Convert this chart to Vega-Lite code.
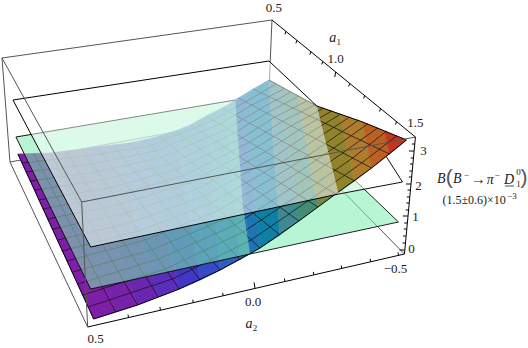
{
"$schema":"https://vega.github.io/schema/vega-lite/v6.json",
"width":528,"height":348,"padding":0,"autosize":{"type":"fit","contains":"padding"},
"background":"white","config":{"view":{"stroke":null}},
"datasets":{
"boxBack":[{"id":"a","x":1,"y":58},{"id":"a","x":272,"y":20},{"id":"b","x":1,"y":58},{"id":"b","x":9,"y":162},{"id":"c","x":9,"y":162},{"id":"c","x":87,"y":327},{"id":"d","x":9,"y":162},{"id":"d","x":268,"y":115},{"id":"e","x":268,"y":115},{"id":"e","x":405,"y":254},{"id":"f","x":272,"y":20},{"id":"f","x":268,"y":115}],
"lowerRight":[{"id":"p","x":250,"y":254},{"id":"p","x":399,"y":222},{"id":"p","x":340,"y":165},{"id":"p","x":250,"y":200}],
"lowerRightEdge":[{"id":"e","x":250,"y":254},{"id":"e","x":399,"y":222},{"id":"e","x":355,"y":180}],
"upperRight":[{"id":"p","x":339,"y":194},{"id":"p","x":403,"y":182},{"id":"p","x":387,"y":157},{"id":"p","x":372,"y":168},{"id":"p","x":355,"y":181}],
"upperRightEdge":[{"id":"e","x":339,"y":194},{"id":"e","x":403,"y":182},{"id":"e","x":387,"y":157}],
"bands":[
{"id":"b00","z":0,"x":17,"y":154},{"id":"b00","z":0,"x":33,"y":153.5},{"id":"b00","z":0,"x":49,"y":153},{"id":"b00","z":0,"x":115,"y":312},{"id":"b00","z":0,"x":93,"y":319},
{"id":"b01","z":0.1,"x":49,"y":153},{"id":"b01","z":0.1,"x":65,"y":151},{"id":"b01","z":0.1,"x":81,"y":149},{"id":"b01","z":0.1,"x":137,"y":305},{"id":"b01","z":0.1,"x":115,"y":312},
{"id":"b02","z":0.25,"x":81,"y":149},{"id":"b02","z":0.25,"x":96,"y":147},{"id":"b02","z":0.25,"x":112,"y":145},{"id":"b02","z":0.25,"x":158,"y":297},{"id":"b02","z":0.25,"x":137,"y":305},
{"id":"b03","z":0.4,"x":112,"y":145},{"id":"b03","z":0.4,"x":128,"y":143},{"id":"b03","z":0.4,"x":143,"y":140},{"id":"b03","z":0.4,"x":179,"y":289},{"id":"b03","z":0.4,"x":158,"y":297},
{"id":"b04","z":0.55,"x":143,"y":140},{"id":"b04","z":0.55,"x":159,"y":136},{"id":"b04","z":0.55,"x":175,"y":131},{"id":"b04","z":0.55,"x":200,"y":280},{"id":"b04","z":0.55,"x":179,"y":289},
{"id":"b05","z":0.65,"x":175,"y":131},{"id":"b05","z":0.65,"x":190,"y":125},{"id":"b05","z":0.65,"x":206,"y":116},{"id":"b05","z":0.65,"x":220,"y":270},{"id":"b05","z":0.65,"x":200,"y":280},
{"id":"b06","z":0.78,"x":206,"y":116},{"id":"b06","z":0.78,"x":222,"y":108},{"id":"b06","z":0.78,"x":226,"y":106},{"id":"b06","z":0.78,"x":240,"y":259.5},{"id":"b06","z":0.78,"x":220,"y":270},
{"id":"b07","z":0.88,"x":226,"y":106},{"id":"b07","z":0.88,"x":235,"y":100},{"id":"b07","z":0.88,"x":250,"y":254},{"id":"b07","z":0.88,"x":240,"y":259.5},
{"id":"b08","z":0.98,"x":235,"y":100},{"id":"b08","z":0.98,"x":245,"y":94},{"id":"b08","z":0.98,"x":260,"y":248},{"id":"b08","z":0.98,"x":250,"y":254},
{"id":"b09","z":1.12,"x":245,"y":94},{"id":"b09","z":1.12,"x":253,"y":89},{"id":"b09","z":1.12,"x":269,"y":80},{"id":"b09","z":1.12,"x":280,"y":235},{"id":"b09","z":1.12,"x":260,"y":248},
{"id":"b10","z":1.3,"x":269,"y":80},{"id":"b10","z":1.3,"x":281,"y":87},{"id":"b10","z":1.3,"x":299,"y":221},{"id":"b10","z":1.3,"x":280,"y":235},
{"id":"b11","z":1.5,"x":281,"y":87},{"id":"b11","z":1.5,"x":298,"y":96},{"id":"b11","z":1.5,"x":318,"y":207},{"id":"b11","z":1.5,"x":299,"y":221},
{"id":"b12","z":1.95,"x":298,"y":96},{"id":"b12","z":1.95,"x":317,"y":106},{"id":"b12","z":1.95,"x":337,"y":193},{"id":"b12","z":1.95,"x":318,"y":207},
{"id":"b13","z":2.2,"x":317,"y":106},{"id":"b13","z":2.2,"x":340,"y":114},{"id":"b13","z":2.2,"x":355,"y":181},{"id":"b13","z":2.2,"x":337,"y":193},
{"id":"b14","z":2.45,"x":340,"y":114},{"id":"b14","z":2.45,"x":363,"y":122},{"id":"b14","z":2.45,"x":372,"y":168},{"id":"b14","z":2.45,"x":355,"y":181},
{"id":"b15","z":2.7,"x":363,"y":122},{"id":"b15","z":2.7,"x":385,"y":131},{"id":"b15","z":2.7,"x":390,"y":154},{"id":"b15","z":2.7,"x":372,"y":168},
{"id":"b16","z":2.95,"x":385,"y":131},{"id":"b16","z":2.95,"x":407,"y":140},{"id":"b16","z":2.95,"x":390,"y":154}
],
"mesh":[
{"id":"j01","x":21,"y":163},{"id":"j01","x":86,"y":156},{"id":"j01","x":149,"y":146},{"id":"j01","x":213,"y":120},{"id":"j01","x":245,"y":102},{"id":"j01","x":276,"y":84},
{"id":"j02","x":25,"y":172},{"id":"j02","x":91,"y":164},{"id":"j02","x":155,"y":151},{"id":"j02","x":220,"y":124},{"id":"j02","x":252,"y":105},{"id":"j02","x":284,"y":89},
{"id":"j03","x":29,"y":181},{"id":"j03","x":97,"y":172},{"id":"j03","x":162,"y":157},{"id":"j03","x":227,"y":129},{"id":"j03","x":260,"y":109},{"id":"j03","x":291,"y":92},
{"id":"j04","x":34,"y":190},{"id":"j04","x":102,"y":180},{"id":"j04","x":169,"y":164},{"id":"j04","x":234,"y":133},{"id":"j04","x":267,"y":113},{"id":"j04","x":299,"y":96},
{"id":"j05","x":38,"y":200},{"id":"j05","x":108,"y":188},{"id":"j05","x":175,"y":170},{"id":"j05","x":242,"y":138},{"id":"j05","x":275,"y":117},{"id":"j05","x":307,"y":101},
{"id":"j06","x":42,"y":209},{"id":"j06","x":114,"y":196},{"id":"j06","x":182,"y":176},{"id":"j06","x":250,"y":142},{"id":"j06","x":283,"y":121},{"id":"j06","x":315,"y":105},
{"id":"j07","x":47,"y":219},{"id":"j07","x":120,"y":204},{"id":"j07","x":189,"y":183},{"id":"j07","x":257,"y":147},{"id":"j07","x":291,"y":126},{"id":"j07","x":324,"y":108},
{"id":"j08","x":52,"y":229},{"id":"j08","x":126,"y":213},{"id":"j08","x":197,"y":189},{"id":"j08","x":265,"y":152},{"id":"j08","x":299,"y":130},{"id":"j08","x":332,"y":111},
{"id":"j09","x":57,"y":240},{"id":"j09","x":132,"y":222},{"id":"j09","x":204,"y":196},{"id":"j09","x":274,"y":157},{"id":"j09","x":308,"y":134},{"id":"j09","x":341,"y":114},
{"id":"j10","x":61,"y":251},{"id":"j10","x":138,"y":231},{"id":"j10","x":211,"y":203},{"id":"j10","x":282,"y":162},{"id":"j10","x":316,"y":139},{"id":"j10","x":350,"y":117},
{"id":"j11","x":66,"y":261},{"id":"j11","x":145,"y":240},{"id":"j11","x":219,"y":210},{"id":"j11","x":291,"y":167},{"id":"j11","x":325,"y":144},{"id":"j11","x":359,"y":120},
{"id":"j12","x":72,"y":272},{"id":"j12","x":151,"y":250},{"id":"j12","x":227,"y":218},{"id":"j12","x":299,"y":172},{"id":"j12","x":334,"y":148},{"id":"j12","x":368,"y":124},
{"id":"j13","x":77,"y":284},{"id":"j13","x":158,"y":259},{"id":"j13","x":235,"y":225},{"id":"j13","x":308,"y":177},{"id":"j13","x":343,"y":153},{"id":"j13","x":378,"y":128},
{"id":"j14","x":82,"y":295},{"id":"j14","x":165,"y":269},{"id":"j14","x":243,"y":232},{"id":"j14","x":317,"y":183},{"id":"j14","x":353,"y":158},{"id":"j14","x":387,"y":131},
{"id":"j15","x":87.5,"y":307},{"id":"j15","x":172,"y":279},{"id":"j15","x":251,"y":240},{"id":"j15","x":327,"y":188},{"id":"j15","x":362,"y":163},{"id":"j15","x":397,"y":136},
{"id":"k01","x":33,"y":153.5},{"id":"k01","x":115,"y":312},
{"id":"k02","x":49,"y":153},{"id":"k02","x":137,"y":305},
{"id":"k03","x":65,"y":151},{"id":"k03","x":158,"y":297},
{"id":"k04","x":81,"y":149},{"id":"k04","x":179,"y":289},
{"id":"k05","x":96,"y":147},{"id":"k05","x":200,"y":280},
{"id":"k06","x":112,"y":145},{"id":"k06","x":220,"y":270},
{"id":"k07","x":128,"y":143},{"id":"k07","x":240,"y":259.5},
{"id":"k08","x":143,"y":140},{"id":"k08","x":260,"y":248},
{"id":"k09","x":159,"y":136},{"id":"k09","x":280,"y":235},
{"id":"k10","x":175,"y":131},{"id":"k10","x":299,"y":221},
{"id":"k11","x":190,"y":125},{"id":"k11","x":318,"y":207},
{"id":"k12","x":206,"y":116},{"id":"k12","x":336,"y":194},
{"id":"k13","x":222,"y":108},{"id":"k13","x":355,"y":181},
{"id":"k14","x":238,"y":98},{"id":"k14","x":372,"y":168},
{"id":"k15","x":253,"y":89},{"id":"k15","x":390,"y":154}
],
"surfaceEdge":[{"id":"o","x":17,"y":154},{"id":"o","x":93,"y":319},{"id":"o","x":137,"y":305},{"id":"o","x":179,"y":289},{"id":"o","x":220,"y":270},{"id":"o","x":260,"y":248},{"id":"o","x":299,"y":221},{"id":"o","x":336,"y":194},{"id":"o","x":372,"y":168},{"id":"o","x":407,"y":140},{"id":"o","x":385,"y":131},{"id":"o","x":363,"y":122},{"id":"o","x":340,"y":114},{"id":"o","x":317,"y":106},{"id":"o","x":293,"y":93},{"id":"o","x":269,"y":80}],
"lowerLeft":[{"id":"p","x":15,"y":137},{"id":"p","x":235,"y":100},{"id":"p","x":243,"y":207},{"id":"p","x":250,"y":254},{"id":"p","x":90,"y":289}],
"lowerLeftEdge":[{"id":"e","x":235,"y":100},{"id":"e","x":15,"y":137},{"id":"e","x":90,"y":289},{"id":"e","x":250,"y":254}],
"upperLeft":[{"id":"p","x":12,"y":100},{"id":"p","x":269,"y":61},{"id":"p","x":317,"y":106},{"id":"p","x":339,"y":194},{"id":"p","x":90,"y":247}],
"upperLeftEdge":[{"id":"e","x":317,"y":106},{"id":"e","x":269,"y":61},{"id":"e","x":12,"y":100},{"id":"e","x":90,"y":247},{"id":"e","x":339,"y":194}],
"boxFront":[{"id":"a","x":1,"y":58},{"id":"a","x":81,"y":202},{"id":"b","x":81,"y":202},{"id":"b","x":416,"y":137},{"id":"c","x":81,"y":202},{"id":"c","x":87,"y":327}],
"axes":[{"id":"a2","x":87,"y":327},{"id":"a2","x":405,"y":254},{"id":"a1","x":272,"y":20},{"id":"a1","x":416,"y":137},{"id":"z","x":416,"y":137},{"id":"z","x":405,"y":254},
{"id":"t01","x":128,"y":317.6},{"id":"t01","x":127.5,"y":314.6},{"id":"t02","x":160,"y":310},{"id":"t02","x":159.5,"y":307},{"id":"t03","x":193,"y":302.7},{"id":"t03","x":192.5,"y":299.7},{"id":"t04","x":223,"y":295.8},{"id":"t04","x":222.5,"y":292.8},{"id":"t05","x":255,"y":288.4},{"id":"t05","x":254,"y":282.4},{"id":"t06","x":285,"y":281.5},{"id":"t06","x":284.5,"y":278.5},{"id":"t07","x":314,"y":274.9},{"id":"t07","x":313.5,"y":271.9},{"id":"t08","x":342,"y":268.5},{"id":"t08","x":341.5,"y":265.5},{"id":"t09","x":371,"y":261.8},{"id":"t09","x":370.5,"y":258.8},{"id":"t10","x":399,"y":255.4},{"id":"t10","x":398.5,"y":252.4},
{"id":"u01","x":286,"y":31.4},{"id":"u01","x":285,"y":34.4},{"id":"u02","x":297,"y":40.3},{"id":"u02","x":296,"y":43.3},{"id":"u03","x":311,"y":51.7},{"id":"u03","x":310,"y":54.7},{"id":"u04","x":323,"y":61.4},{"id":"u04","x":322,"y":64.4},{"id":"u05","x":336,"y":72},{"id":"u05","x":335,"y":77},{"id":"u06","x":350,"y":83.4},{"id":"u06","x":349,"y":86.4},{"id":"u07","x":365,"y":95.6},{"id":"u07","x":364,"y":98.6},{"id":"u08","x":381,"y":108.6},{"id":"u08","x":380,"y":111.6},{"id":"u09","x":397,"y":121.6},{"id":"u09","x":396,"y":124.6},
{"id":"v00","x":405.1,"y":250},{"id":"v00","x":400,"y":250},{"id":"v01","x":405.8,"y":243},{"id":"v01","x":403,"y":243},{"id":"v02","x":406.4,"y":236},{"id":"v02","x":403.6,"y":236},{"id":"v03","x":407.1,"y":229},{"id":"v03","x":404.3,"y":229},{"id":"v04","x":407.6,"y":223},{"id":"v04","x":404.8,"y":223},{"id":"v05","x":408.4,"y":216},{"id":"v05","x":403.4,"y":216},{"id":"v06","x":409,"y":210},{"id":"v06","x":406.2,"y":210},{"id":"v07","x":409.7,"y":203},{"id":"v07","x":406.9,"y":203},{"id":"v08","x":410.2,"y":197},{"id":"v08","x":407.4,"y":197},{"id":"v09","x":410.9,"y":190},{"id":"v09","x":408.1,"y":190},{"id":"v10","x":411.5,"y":184},{"id":"v10","x":406.5,"y":184},{"id":"v11","x":412.2,"y":177},{"id":"v11","x":409.4,"y":177},{"id":"v12","x":412.8,"y":171},{"id":"v12","x":410,"y":171},{"id":"v13","x":413.4,"y":164},{"id":"v13","x":410.6,"y":164},{"id":"v14","x":414,"y":158},{"id":"v14","x":411.2,"y":158},{"id":"v15","x":414.6,"y":151},{"id":"v15","x":409.6,"y":151},{"id":"v16","x":415.3,"y":144},{"id":"v16","x":412.5,"y":144}],
"tickLabels":[{"x":274,"y":8,"t":"0.5"},{"x":336,"y":59,"t":"1.0"},{"x":416,"y":123,"t":"1.5"},{"x":424,"y":151,"t":"3"},{"x":419,"y":186,"t":"2"},{"x":416,"y":217,"t":"1"},{"x":412,"y":249,"t":"0"},{"x":396,"y":269,"t":"−0.5"},{"x":253,"y":302,"t":"0.0"},{"x":95,"y":339,"t":"0.5"}],
"italic":[{"x":333,"y":38,"t":"a"},{"x":249,"y":324,"t":"a"},{"x":442,"y":179,"t":"B"},{"x":458,"y":179,"t":"B"},{"x":491,"y":180,"t":"π"},{"x":510,"y":180,"t":"D"}],
"small":[{"x":339,"y":42,"t":"1"},{"x":255,"y":328,"t":"2"},{"x":467,"y":175,"t":"−"},{"x":498,"y":175,"t":"−"},{"x":519.5,"y":172,"t":"0"},{"x":519.5,"y":183.5,"t":"1"},{"x":513,"y":196,"t":"−3"}],
"plain":[{"x":475,"y":200,"t":"(1.5±0.6)×10"}],
"arrow":[{"x":479,"y":179,"t":"→"}],
"parens":[{"x":450,"y":178,"t":"("},{"x":525,"y":178,"t":")"}],
"underline":[{"id":"d","x":506,"y":186},{"id":"d","x":515,"y":186}]
},
"encoding":{
"x":{"field":"x","type":"quantitative","scale":{"domain":[0,528],"nice":false,"zero":false},"axis":null},
"y":{"field":"y","type":"quantitative","scale":{"domain":[348,0],"nice":false,"zero":false},"axis":null}
},
"layer":[
{"data":{"name":"boxBack"},"transform":[{"window":[{"op":"row_number","as":"i"}]}],"mark":{"type":"line","stroke":"#555555","strokeWidth":1},"encoding":{"detail":{"field":"id"},"order":{"field":"i","type":"quantitative"}}},
{"data":{"name":"lowerRight"},"transform":[{"window":[{"op":"row_number","as":"i"}]}],"mark":{"type":"line","interpolate":"linear-closed","fill":"#7eedb3","fillOpacity":0.55,"strokeOpacity":0},"encoding":{"detail":{"field":"id"},"order":{"field":"i","type":"quantitative"}}},
{"data":{"name":"lowerRightEdge"},"transform":[{"window":[{"op":"row_number","as":"i"}]}],"mark":{"type":"line","stroke":"#222222","strokeWidth":1},"encoding":{"detail":{"field":"id"},"order":{"field":"i","type":"quantitative"}}},
{"data":{"name":"upperRight"},"transform":[{"window":[{"op":"row_number","as":"i"}]}],"mark":{"type":"line","interpolate":"linear-closed","fill":"#ffffff","fillOpacity":0.5,"strokeOpacity":0},"encoding":{"detail":{"field":"id"},"order":{"field":"i","type":"quantitative"}}},
{"data":{"name":"upperRightEdge"},"transform":[{"window":[{"op":"row_number","as":"i"}]}],"mark":{"type":"line","stroke":"#111111","strokeWidth":1},"encoding":{"detail":{"field":"id"},"order":{"field":"i","type":"quantitative"}}},
{"data":{"name":"bands"},"transform":[{"window":[{"op":"row_number","as":"i"}]}],"mark":{"type":"line","interpolate":"linear-closed","strokeWidth":0.6},"encoding":{"detail":{"field":"id"},"order":{"field":"i","type":"quantitative"},
"fill":{"field":"z","type":"quantitative","legend":null,"scale":{"domain":[0,0.25,0.55,0.9,1.3,1.7,2.1,2.5,3],"range":["#7f1fa8","#6a26b0","#4436c4","#3a6cb8","#3f8a90","#5f8a5c","#848530","#b57a30","#c22a20"]}},
"stroke":{"field":"z","type":"quantitative","legend":null,"scale":{"domain":[0,0.25,0.55,0.9,1.3,1.7,2.1,2.5,3],"range":["#7f1fa8","#6a26b0","#4436c4","#3a6cb8","#3f8a90","#5f8a5c","#848530","#b57a30","#c22a20"]}}}},
{"data":{"name":"mesh"},"transform":[{"window":[{"op":"row_number","as":"i"}]}],"mark":{"type":"line","stroke":"#111111","strokeWidth":0.9,"strokeOpacity":0.8},"encoding":{"detail":{"field":"id"},"order":{"field":"i","type":"quantitative"}}},
{"data":{"name":"surfaceEdge"},"transform":[{"window":[{"op":"row_number","as":"i"}]}],"mark":{"type":"line","stroke":"#000000","strokeWidth":1},"encoding":{"detail":{"field":"id"},"order":{"field":"i","type":"quantitative"}}},
{"data":{"name":"lowerLeft"},"transform":[{"window":[{"op":"row_number","as":"i"}]}],"mark":{"type":"line","interpolate":"linear-closed","fill":"#7eedb3","fillOpacity":0.55,"strokeOpacity":0},"encoding":{"detail":{"field":"id"},"order":{"field":"i","type":"quantitative"}}},
{"data":{"name":"lowerLeftEdge"},"transform":[{"window":[{"op":"row_number","as":"i"}]}],"mark":{"type":"line","stroke":"#111111","strokeWidth":1},"encoding":{"detail":{"field":"id"},"order":{"field":"i","type":"quantitative"}}},
{"data":{"name":"upperLeft"},"transform":[{"window":[{"op":"row_number","as":"i"}]}],"mark":{"type":"line","interpolate":"linear-closed","fill":"#ffffff","fillOpacity":0.5,"strokeOpacity":0},"encoding":{"detail":{"field":"id"},"order":{"field":"i","type":"quantitative"}}},
{"data":{"name":"upperLeftEdge"},"transform":[{"window":[{"op":"row_number","as":"i"}]}],"mark":{"type":"line","stroke":"#000000","strokeWidth":1},"encoding":{"detail":{"field":"id"},"order":{"field":"i","type":"quantitative"}}},
{"data":{"name":"boxFront"},"transform":[{"window":[{"op":"row_number","as":"i"}]}],"mark":{"type":"line","stroke":"#555555","strokeWidth":1},"encoding":{"detail":{"field":"id"},"order":{"field":"i","type":"quantitative"}}},
{"data":{"name":"axes"},"transform":[{"window":[{"op":"row_number","as":"i"}]}],"mark":{"type":"line","stroke":"#000000","strokeWidth":1},"encoding":{"detail":{"field":"id"},"order":{"field":"i","type":"quantitative"}}},
{"data":{"name":"underline"},"transform":[{"window":[{"op":"row_number","as":"i"}]}],"mark":{"type":"line","stroke":"#222222","strokeWidth":0.8},"encoding":{"detail":{"field":"id"},"order":{"field":"i","type":"quantitative"}}},
{"data":{"name":"tickLabels"},"mark":{"type":"text","font":"Liberation Serif","fontSize":13,"color":"#222222","align":"center","baseline":"middle"},"encoding":{"text":{"field":"t"}}},
{"data":{"name":"italic"},"mark":{"type":"text","font":"Liberation Serif","fontStyle":"italic","fontSize":14,"color":"#222222","align":"center","baseline":"middle"},"encoding":{"text":{"field":"t"}}},
{"data":{"name":"small"},"mark":{"type":"text","font":"Liberation Serif","fontSize":9,"color":"#222222","align":"center","baseline":"middle"},"encoding":{"text":{"field":"t"}}},
{"data":{"name":"plain"},"mark":{"type":"text","font":"Liberation Serif","fontSize":12,"color":"#222222","align":"center","baseline":"middle"},"encoding":{"text":{"field":"t"}}},
{"data":{"name":"arrow"},"mark":{"type":"text","font":"Liberation Serif","fontSize":15,"color":"#222222","align":"center","baseline":"middle"},"encoding":{"text":{"field":"t"}}},
{"data":{"name":"parens"},"mark":{"type":"text","font":"Liberation Sans","fontSize":21,"color":"#555555","align":"center","baseline":"middle"},"encoding":{"text":{"field":"t"}}}
]
}
